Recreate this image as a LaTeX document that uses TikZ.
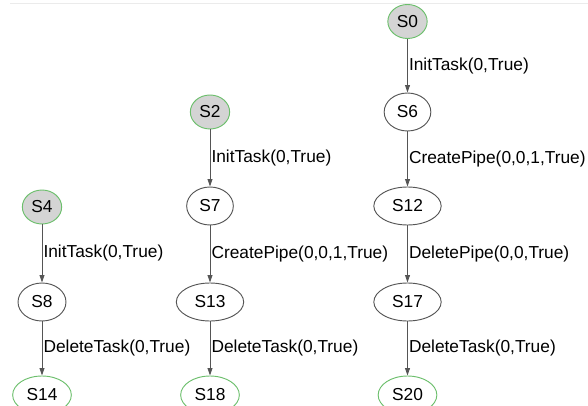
\documentclass[tikz,border=0pt]{standalone}
\usepackage{fontspec}
\setmainfont{Liberation Sans}
\usetikzlibrary{arrows.meta,shapes.geometric}
\definecolor{startgray}{HTML}{D4D4D4}
\definecolor{termgreen}{HTML}{6CBF6C}
\definecolor{edgegray}{HTML}{555555}
\definecolor{rulegray}{HTML}{EBEBEB}
\tikzset{
  statenode/.style={ellipse, draw=edgegray, fill=white, minimum height=28.5pt, inner sep=0pt, line width=0.7pt, font=\fontsize{13}{15}\selectfont},
  initnode/.style={statenode, draw=termgreen, fill=startgray, minimum width=29.5pt, minimum height=25.5pt},
  finalnode/.style={statenode, draw=termgreen, minimum width=44pt},
  trans/.style={-{Triangle[length=5.5pt,width=3.6pt]}, draw=edgegray, line width=0.7pt},
  translabel/.style={anchor=west, inner sep=0.8pt, font=\fontsize{13}{15}\selectfont, text=black}
}
\begin{document}
\begin{tikzpicture}[x=0.75pt, y=-0.75pt]
  \useasboundingbox (0,0) rectangle (588,406);
  \draw[rulegray, line width=0.6pt] (10,3) -- (588,3);

  % right chain
  \node[initnode] (S0) at (407.5,21.5) {S0};
  \node[statenode, minimum width=35pt] (S6) at (407.5,112) {S6};
  \node[statenode, minimum width=50.5pt] (S12) at (407.5,206) {S12};
  \node[statenode, minimum width=50.5pt] (S17) at (407.5,302) {S17};
  \node[finalnode] (S20) at (407.5,395) {S20};

  % middle chain
  \node[initnode] (S2) at (210,112) {S2};
  \node[statenode, minimum width=35pt] (S7) at (210,206) {S7};
  \node[statenode, minimum width=50.5pt] (S13) at (210,302) {S13};
  \node[finalnode] (S18) at (210,395) {S18};

  % left chain
  \node[initnode] (S4) at (42,207) {S4};
  \node[statenode, minimum width=36pt] (S8) at (42,302) {S8};
  \node[finalnode] (S14) at (42,395) {S14};

  \draw[trans] (S0) -- node[translabel] {InitTask(0,True)} (S6);
  \draw[trans] (S6) -- node[translabel] {CreatePipe(0,0,1,True)} (S12);
  \draw[trans] (S12) -- node[translabel] {DeletePipe(0,0,True)} (S17);
  \draw[trans] (S17) -- node[translabel] {DeleteTask(0,True)} (S20);

  \draw[trans] (S2) -- node[translabel] {InitTask(0,True)} (S7);
  \draw[trans] (S7) -- node[translabel] {CreatePipe(0,0,1,True)} (S13);
  \draw[trans] (S13) -- node[translabel] {DeleteTask(0,True)} (S18);

  \draw[trans] (S4) -- node[translabel] {InitTask(0,True)} (S8);
  \draw[trans] (S8) -- node[translabel] {DeleteTask(0,True)} (S14);
\end{tikzpicture}
\end{document}
